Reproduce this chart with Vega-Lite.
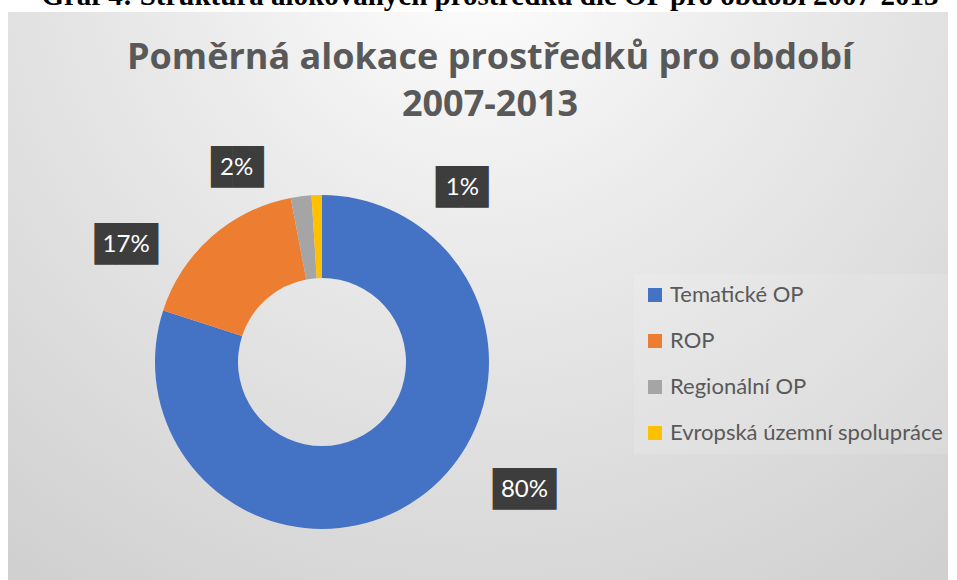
{
  "$schema": "https://vega.github.io/schema/vega-lite/v6.json",
  "width": 940,
  "height": 568,
  "autosize": {"type": "none"},
  "padding": {"left": 8, "top": 12, "right": 9, "bottom": 0},
  "background": "#ffffff",
  "config": {"view": {"stroke": "#c4c4c4", "strokeWidth": 1}},
  "title": {
    "text": "Graf 4: Struktura alokovaných prostředků dle OP pro období 2007-2013",
    "subtitle": ["Poměrná alokace prostředků pro období", "2007-2013"],
    "anchor": "middle",
    "orient": "top",
    "frame": "group",
    "offset": -111,
    "dx": 12,
    "font": "Liberation Serif",
    "fontSize": 29,
    "fontWeight": "bold",
    "color": "#000000",
    "subtitleFont": "Open Sans",
    "subtitleFontSize": 36,
    "subtitleFontWeight": "bold",
    "subtitleColor": "#595959",
    "subtitleLineHeight": 47,
    "subtitlePadding": 30
  },
  "data": {
    "values": [
      {"kategorie": "Tematické OP", "podil": 80, "poradi": 1, "stitek": "80%"},
      {"kategorie": "ROP", "podil": 17, "poradi": 2, "stitek": "17%"},
      {"kategorie": "Regionální OP", "podil": 2, "poradi": 3, "stitek": "2%"},
      {"kategorie": "Evropská územní spolupráce", "podil": 1, "poradi": 4, "stitek": "1%"}
    ]
  },
  "layer": [
    {
      "mark": {
        "type": "rect",
        "fill": {
          "gradient": "radial",
          "x1": 0.5, "y1": 0.12, "r1": 0,
          "x2": 0.5, "y2": 0.12, "r2": 0.85,
          "stops": [
            {"offset": 0, "color": "#ffffff"},
            {"offset": 0.35, "color": "#ececec"},
            {"offset": 1, "color": "#cfcfcf"}
          ]
        }
      },
      "encoding": {}
    },
    {
      "mark": {"type": "arc", "x": 314, "y": 350, "outerRadius": 167, "innerRadius": 84},
      "encoding": {
        "theta": {"field": "podil", "type": "quantitative", "stack": true},
        "order": {"field": "poradi", "type": "quantitative"},
        "color": {
          "field": "kategorie",
          "type": "nominal",
          "scale": {
            "domain": ["Tematické OP", "ROP", "Regionální OP", "Evropská územní spolupráce"],
            "range": ["#4472C4", "#ED7D31", "#A5A5A5", "#FFC000"]
          },
          "legend": {
            "orient": "none",
            "legendX": 626,
            "legendY": 262,
            "title": null,
            "symbolType": "square",
            "symbolSize": 196,
            "symbolStrokeWidth": 0,
            "labelFont": "Lato",
            "labelFontSize": 22,
            "labelColor": "#595959",
            "labelLimit": 400,
            "labelOffset": 4,
            "rowPadding": 24,
            "padding": 10,
            "fillColor": "rgba(255,255,255,0.12)"
          }
        }
      }
    },
    {
      "mark": {"type": "text", "x": 314, "y": 350, "radius": 210, "font": "DejaVu Sans Mono", "fontSize": 35, "color": "#3d3d3d", "align": "center", "baseline": "middle", "dx": 79, "dy": -42},
      "encoding": {
        "theta": {"field": "podil", "type": "quantitative", "stack": true},
        "order": {"field": "poradi", "type": "quantitative"},
        "detail": {"field": "kategorie"},
        "text": {"condition": {"test": "datum.poradi == 1", "value": "███"}, "value": ""}
      }
    },
    {
      "mark": {"type": "text", "x": 314, "y": 350, "radius": 210, "font": "DejaVu Sans Mono", "fontSize": 35, "color": "#3d3d3d", "align": "center", "baseline": "middle", "dx": -57, "dy": 41},
      "encoding": {
        "theta": {"field": "podil", "type": "quantitative", "stack": true},
        "order": {"field": "poradi", "type": "quantitative"},
        "detail": {"field": "kategorie"},
        "text": {"condition": {"test": "datum.poradi == 2", "value": "███"}, "value": ""}
      }
    },
    {
      "mark": {"type": "text", "x": 314, "y": 350, "radius": 210, "font": "DejaVu Sans Mono", "fontSize": 35, "color": "#3d3d3d", "align": "center", "baseline": "middle", "dx": -53, "dy": 14},
      "encoding": {
        "theta": {"field": "podil", "type": "quantitative", "stack": true},
        "order": {"field": "poradi", "type": "quantitative"},
        "detail": {"field": "kategorie"},
        "text": {"condition": {"test": "datum.poradi == 3", "value": "██▌"}, "value": ""}
      }
    },
    {
      "mark": {"type": "text", "x": 314, "y": 350, "radius": 210, "font": "DejaVu Sans Mono", "fontSize": 35, "color": "#3d3d3d", "align": "center", "baseline": "middle", "dx": 152, "dy": 36},
      "encoding": {
        "theta": {"field": "podil", "type": "quantitative", "stack": true},
        "order": {"field": "poradi", "type": "quantitative"},
        "detail": {"field": "kategorie"},
        "text": {"condition": {"test": "datum.poradi == 4", "value": "██▌"}, "value": ""}
      }
    },
    {
      "mark": {"type": "text", "x": 314, "y": 350, "radius": 210, "font": "Lato", "fontSize": 24, "color": "#ffffff", "align": "center", "baseline": "middle", "dx": 79, "dy": -42},
      "encoding": {
        "theta": {"field": "podil", "type": "quantitative", "stack": true},
        "order": {"field": "poradi", "type": "quantitative"},
        "detail": {"field": "kategorie"},
        "text": {"condition": {"test": "datum.poradi == 1", "field": "stitek"}, "value": ""}
      }
    },
    {
      "mark": {"type": "text", "x": 314, "y": 350, "radius": 210, "font": "Lato", "fontSize": 24, "color": "#ffffff", "align": "center", "baseline": "middle", "dx": -57, "dy": 41},
      "encoding": {
        "theta": {"field": "podil", "type": "quantitative", "stack": true},
        "order": {"field": "poradi", "type": "quantitative"},
        "detail": {"field": "kategorie"},
        "text": {"condition": {"test": "datum.poradi == 2", "field": "stitek"}, "value": ""}
      }
    },
    {
      "mark": {"type": "text", "x": 314, "y": 350, "radius": 210, "font": "Lato", "fontSize": 24, "color": "#ffffff", "align": "center", "baseline": "middle", "dx": -59, "dy": 14},
      "encoding": {
        "theta": {"field": "podil", "type": "quantitative", "stack": true},
        "order": {"field": "poradi", "type": "quantitative"},
        "detail": {"field": "kategorie"},
        "text": {"condition": {"test": "datum.poradi == 3", "field": "stitek"}, "value": ""}
      }
    },
    {
      "mark": {"type": "text", "x": 314, "y": 350, "radius": 210, "font": "Lato", "fontSize": 24, "color": "#ffffff", "align": "center", "baseline": "middle", "dx": 147, "dy": 36},
      "encoding": {
        "theta": {"field": "podil", "type": "quantitative", "stack": true},
        "order": {"field": "poradi", "type": "quantitative"},
        "detail": {"field": "kategorie"},
        "text": {"condition": {"test": "datum.poradi == 4", "field": "stitek"}, "value": ""}
      }
    }
  ]
}
